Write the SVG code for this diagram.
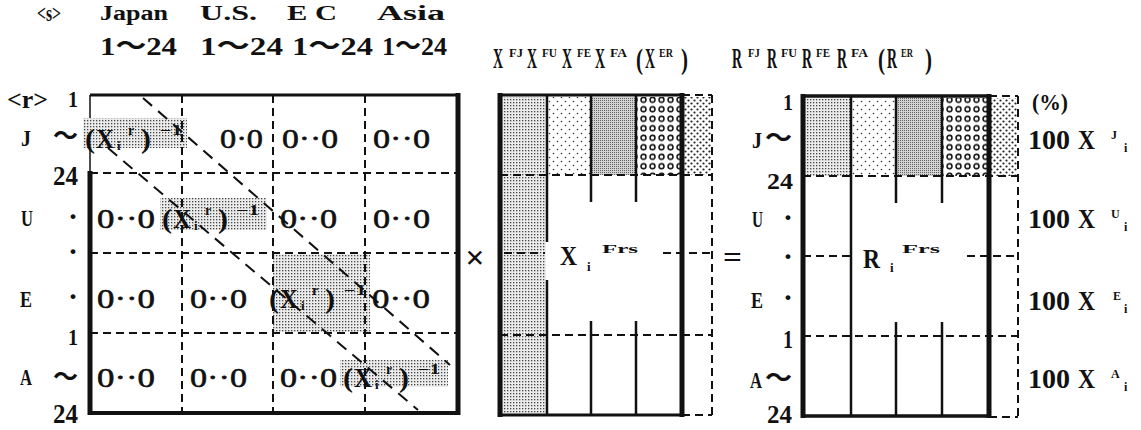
<svg xmlns="http://www.w3.org/2000/svg" width="1141" height="430" viewBox="0 0 1141 430">
<style>
.t{font-family:"Liberation Serif","Noto Sans CJK JP",serif;font-weight:bold;fill:#111}
.z{font-family:"Liberation Serif",serif;font-weight:normal;fill:#111;stroke:#111;stroke-width:0.6;font-size:28px}
.f12{font-size:12px}.f13{font-size:13px}.f14{font-size:14px}.f20{font-size:20px}.f23{font-size:23px}.f24{font-size:24px}.f26{font-size:26px}.f27{font-size:27px}.f28{font-size:28px}.f30{font-size:30px}.f34{font-size:34px}
.ln{stroke:#111;fill:none}
.d{stroke:#111;stroke-width:2;stroke-dasharray:8 5;fill:none}
.dg{stroke:#111;stroke-width:2;stroke-dasharray:12 8;fill:none}
</style>
<defs>
<pattern id="pGrid" width="3" height="3" patternUnits="userSpaceOnUse"><rect width="3" height="3" fill="#ececec"/><rect width="1.3" height="1.3" fill="#444"/></pattern>
<pattern id="pSparse" width="8" height="8" patternUnits="userSpaceOnUse"><rect width="8" height="8" fill="#fff"/><circle cx="1.5" cy="1.5" r="0.8" fill="#333"/><circle cx="5.5" cy="5.5" r="0.8" fill="#333"/></pattern>
<pattern id="pDense" width="2" height="2" patternUnits="userSpaceOnUse"><rect width="2" height="2" fill="#d2d2d2"/><rect width="1" height="1" fill="#666"/></pattern>
<pattern id="pRing" width="9" height="9.5" patternUnits="userSpaceOnUse"><rect width="9" height="9.5" fill="#fff"/><circle cx="4.5" cy="4.75" r="2.5" fill="none" stroke="#111" stroke-width="1.5"/></pattern>
<pattern id="pBig" width="6" height="6" patternUnits="userSpaceOnUse"><rect width="6" height="6" fill="#fff"/><circle cx="1.5" cy="1.5" r="1.1" fill="#222"/><circle cx="4.5" cy="4.5" r="1.1" fill="#222"/></pattern>
</defs>
<rect width="1141" height="430" fill="#fff"/>

<g id="column-labels">
<text class="t f24" x="37" y="21" textLength="24" lengthAdjust="spacingAndGlyphs">&lt;s&gt;</text>
<text class="t f20" x="100" y="20" textLength="68" lengthAdjust="spacingAndGlyphs">Japan</text>
<text class="t f20" x="200" y="20" textLength="57" lengthAdjust="spacingAndGlyphs">U.S.</text>
<text class="t f20" x="287" y="20" textLength="50" lengthAdjust="spacingAndGlyphs">E C</text>
<text class="t f20" x="377" y="20" textLength="68" lengthAdjust="spacingAndGlyphs">Asia</text>
<text class="t f26" x="100" y="55" textLength="77" lengthAdjust="spacingAndGlyphs">1〜24</text>
<text class="t f26" x="200" y="55" textLength="83" lengthAdjust="spacingAndGlyphs">1〜24</text>
<text class="t f26" x="292" y="55" textLength="81" lengthAdjust="spacingAndGlyphs">1〜24</text>
<text class="t f26" x="382" y="55" textLength="65" lengthAdjust="spacingAndGlyphs">1〜24</text>
</g>

<g id="x-labels">
<text class="t f30" x="493" y="68" textLength="10" lengthAdjust="spacingAndGlyphs">X</text>
<text class="t f12" x="509" y="57" textLength="14" lengthAdjust="spacingAndGlyphs">FJ</text>
<text class="t f30" x="527" y="68" textLength="10" lengthAdjust="spacingAndGlyphs">X</text>
<text class="t f12" x="542" y="57" textLength="15" lengthAdjust="spacingAndGlyphs">FU</text>
<text class="t f30" x="562" y="68" textLength="10" lengthAdjust="spacingAndGlyphs">X</text>
<text class="t f12" x="577" y="57" textLength="14" lengthAdjust="spacingAndGlyphs">FE</text>
<text class="t f30" x="595" y="68" textLength="10" lengthAdjust="spacingAndGlyphs">X</text>
<text class="t f12" x="610" y="57" textLength="17" lengthAdjust="spacingAndGlyphs">FA</text>
<text class="t f30" x="636" y="69" textLength="7" lengthAdjust="spacingAndGlyphs">(</text>
<text class="t f30" x="645" y="68" textLength="10" lengthAdjust="spacingAndGlyphs">X</text>
<text class="t f12" x="659" y="57" textLength="14" lengthAdjust="spacingAndGlyphs">ER</text>
<text class="t f30" x="681" y="69" textLength="7" lengthAdjust="spacingAndGlyphs">)</text>
</g>

<g id="r-labels">
<text class="t f30" x="732" y="68" textLength="10" lengthAdjust="spacingAndGlyphs">R</text>
<text class="t f12" x="748" y="57" textLength="12" lengthAdjust="spacingAndGlyphs">FJ</text>
<text class="t f30" x="767" y="68" textLength="10" lengthAdjust="spacingAndGlyphs">R</text>
<text class="t f12" x="781" y="57" textLength="16" lengthAdjust="spacingAndGlyphs">FU</text>
<text class="t f30" x="802" y="68" textLength="10" lengthAdjust="spacingAndGlyphs">R</text>
<text class="t f12" x="816" y="57" textLength="14" lengthAdjust="spacingAndGlyphs">FE</text>
<text class="t f30" x="837" y="68" textLength="10" lengthAdjust="spacingAndGlyphs">R</text>
<text class="t f12" x="851" y="57" textLength="17" lengthAdjust="spacingAndGlyphs">FA</text>
<text class="t f30" x="878" y="69" textLength="7" lengthAdjust="spacingAndGlyphs">(</text>
<text class="t f30" x="887" y="68" textLength="10" lengthAdjust="spacingAndGlyphs">R</text>
<text class="t f12" x="901" y="57" textLength="12" lengthAdjust="spacingAndGlyphs">ER</text>
<text class="t f30" x="925" y="69" textLength="7" lengthAdjust="spacingAndGlyphs">)</text>
</g>

<g id="row-labels-left">
<text class="t f26" x="7" y="108" textLength="41" lengthAdjust="spacingAndGlyphs">&lt;r&gt;</text>
<text class="t f23" x="68" y="107" textLength="10" lengthAdjust="spacingAndGlyphs">1</text>
<text class="t f23" x="21" y="146" textLength="10" lengthAdjust="spacingAndGlyphs">J</text>
<text class="t f26" x="53" y="145" textLength="25" lengthAdjust="spacingAndGlyphs">〜</text>
<text class="t f27" x="53" y="185" textLength="25" lengthAdjust="spacingAndGlyphs">24</text>
<text class="t f24" x="21" y="226" textLength="12" lengthAdjust="spacingAndGlyphs">U</text>
<text class="t f30" x="73" y="226" text-anchor="middle">·</text>
<text class="t f30" x="73" y="261" text-anchor="middle">·</text>
<text class="t f24" x="20" y="307" textLength="12" lengthAdjust="spacingAndGlyphs">E</text>
<text class="t f30" x="73" y="306" text-anchor="middle">·</text>
<text class="t f23" x="68" y="345" textLength="10" lengthAdjust="spacingAndGlyphs">1</text>
<text class="t f24" x="20" y="385" textLength="12" lengthAdjust="spacingAndGlyphs">A</text>
<text class="t f26" x="53" y="386" textLength="25" lengthAdjust="spacingAndGlyphs">〜</text>
<text class="t f27" x="53" y="423" textLength="25" lengthAdjust="spacingAndGlyphs">24</text>
</g>

<g id="left-matrix">
<line class="ln" x1="90" y1="95" x2="458" y2="95" stroke-width="3"/>
<line class="ln" x1="90" y1="95" x2="90" y2="173" stroke-width="1.5"/>
<line class="ln" x1="90" y1="171" x2="90" y2="415" stroke-width="5"/>
<line class="ln" x1="88" y1="413" x2="460" y2="413" stroke-width="4"/>
<line class="ln" x1="458" y1="93" x2="458" y2="415" stroke-width="5"/>
<rect x="83" y="118" width="104" height="30" fill="url(#pGrid)"/>
<rect x="160" y="198" width="107" height="32" fill="url(#pGrid)"/>
<rect x="273" y="254" width="97" height="78" fill="url(#pGrid)"/>
<rect x="340" y="360" width="108" height="27" fill="url(#pGrid)"/>
<path class="d" d="M182 95V413M273 95V413M365 95V413M90 173H458M90 253H458M90 333H458"/>
</g>

<g id="connectors">
<line class="dg" x1="143" y1="98" x2="450" y2="365"/>
<line class="dg" x1="108" y1="148" x2="418" y2="410"/>
</g>

<g id="left-matrix-text">
<text class="t f27" x="85" y="148" textLength="10" lengthAdjust="spacingAndGlyphs">(</text>
<text class="t f27" x="96" y="148" textLength="18" lengthAdjust="spacingAndGlyphs">X</text>
<text class="t f13" x="117" y="150">i</text>
<text class="t f14" x="128" y="135">r</text>
<text class="t f27" x="141" y="148" textLength="10" lengthAdjust="spacingAndGlyphs">)</text>
<text class="t f14" x="160" y="135" textLength="22" lengthAdjust="spacingAndGlyphs">−1</text>
<text class="z" x="220" y="148" textLength="43" lengthAdjust="spacingAndGlyphs">0·0</text>
<text class="z" x="282" y="148" textLength="56" lengthAdjust="spacingAndGlyphs">0··0</text>
<text class="z" x="373" y="148" textLength="57" lengthAdjust="spacingAndGlyphs">0··0</text>

<text class="z" x="97" y="228" textLength="58" lengthAdjust="spacingAndGlyphs">0··0</text>
<text class="t f27" x="162" y="228" textLength="10" lengthAdjust="spacingAndGlyphs">(</text>
<text class="t f27" x="173" y="228" textLength="18" lengthAdjust="spacingAndGlyphs">X</text>
<text class="t f13" x="194" y="230">i</text>
<text class="t f14" x="205" y="215">r</text>
<text class="t f27" x="218" y="228" textLength="10" lengthAdjust="spacingAndGlyphs">)</text>
<text class="t f14" x="237" y="215" textLength="22" lengthAdjust="spacingAndGlyphs">−1</text>
<text class="z" x="280" y="228" textLength="57" lengthAdjust="spacingAndGlyphs">0··0</text>
<text class="z" x="373" y="228" textLength="57" lengthAdjust="spacingAndGlyphs">0··0</text>

<text class="z" x="97" y="308" textLength="58" lengthAdjust="spacingAndGlyphs">0··0</text>
<text class="z" x="190" y="308" textLength="57" lengthAdjust="spacingAndGlyphs">0··0</text>
<text class="t f27" x="269" y="308" textLength="10" lengthAdjust="spacingAndGlyphs">(</text>
<text class="t f27" x="280" y="308" textLength="18" lengthAdjust="spacingAndGlyphs">X</text>
<text class="t f13" x="301" y="310">i</text>
<text class="t f14" x="312" y="295">r</text>
<text class="t f27" x="325" y="308" textLength="10" lengthAdjust="spacingAndGlyphs">)</text>
<text class="t f14" x="344" y="295" textLength="22" lengthAdjust="spacingAndGlyphs">−1</text>
<text class="z" x="372" y="308" textLength="58" lengthAdjust="spacingAndGlyphs">0··0</text>

<text class="z" x="97" y="387" textLength="58" lengthAdjust="spacingAndGlyphs">0··0</text>
<text class="z" x="190" y="387" textLength="57" lengthAdjust="spacingAndGlyphs">0··0</text>
<text class="z" x="280" y="387" textLength="57" lengthAdjust="spacingAndGlyphs">0··0</text>
<text class="t f27" x="343" y="387" textLength="10" lengthAdjust="spacingAndGlyphs">(</text>
<text class="t f27" x="354" y="387" textLength="18" lengthAdjust="spacingAndGlyphs">X</text>
<text class="t f13" x="375" y="389">i</text>
<text class="t f14" x="386" y="374">r</text>
<text class="t f27" x="399" y="387" textLength="10" lengthAdjust="spacingAndGlyphs">)</text>
<text class="t f14" x="418" y="374" textLength="22" lengthAdjust="spacingAndGlyphs">−1</text>
</g>

<g id="times">
<text class="t f34" x="475" y="269" text-anchor="middle">×</text>
</g>

<g id="middle-matrix">
<rect x="502" y="97" width="44" height="316" fill="url(#pGrid)"/>
<rect x="548" y="97" width="42" height="78" fill="url(#pSparse)"/>
<rect x="592" y="97" width="43" height="78" fill="url(#pDense)"/>
<rect x="637" y="97" width="44" height="78" fill="url(#pRing)"/>
<rect x="684" y="97" width="27" height="78" fill="url(#pBig)"/>
<line class="ln" x1="500" y1="93" x2="500" y2="417" stroke-width="5"/>
<line class="ln" x1="682" y1="93" x2="682" y2="417" stroke-width="5"/>
<line class="ln" x1="500" y1="95" x2="682" y2="95" stroke-width="3"/>
<line class="ln" x1="500" y1="415" x2="682" y2="415" stroke-width="3"/>
<path class="ln" stroke-width="2.5" d="M547 95V242M547 280V415M591 95V202M591 321V415M636 95V202M636 321V415"/>
<path class="d" d="M500 175H712M504 253H545M663 253H712M500 335H712M712 95V415M682 95H712M682 415H712"/>
<text class="t f27" x="560" y="265" textLength="17" lengthAdjust="spacingAndGlyphs">X</text>
<text class="t f13" x="587" y="271">i</text>
<text class="t f13" x="602" y="253" textLength="36" lengthAdjust="spacingAndGlyphs">Frs</text>
</g>

<g id="equals">
<text class="t f30" x="723" y="267" textLength="19" lengthAdjust="spacingAndGlyphs">=</text>
</g>

<g id="row-labels-right">
<text class="t f23" x="783" y="110" textLength="10" lengthAdjust="spacingAndGlyphs">1</text>
<text class="t f24" x="752" y="148" textLength="10" lengthAdjust="spacingAndGlyphs">J</text>
<text class="t f26" x="765" y="147" textLength="27" lengthAdjust="spacingAndGlyphs">〜</text>
<text class="t f23" x="767" y="189" textLength="26" lengthAdjust="spacingAndGlyphs">24</text>
<text class="t f24" x="752" y="227" textLength="11" lengthAdjust="spacingAndGlyphs">U</text>
<text class="t f30" x="788" y="227" text-anchor="middle">·</text>
<text class="t f30" x="788" y="266" text-anchor="middle">·</text>
<text class="t f24" x="751" y="308" textLength="12" lengthAdjust="spacingAndGlyphs">E</text>
<text class="t f30" x="788" y="307" text-anchor="middle">·</text>
<text class="t f26" x="783" y="348" textLength="10" lengthAdjust="spacingAndGlyphs">1</text>
<text class="t f24" x="750" y="388" textLength="12" lengthAdjust="spacingAndGlyphs">A</text>
<text class="t f26" x="765" y="387" textLength="27" lengthAdjust="spacingAndGlyphs">〜</text>
<text class="t f26" x="767" y="423" textLength="25" lengthAdjust="spacingAndGlyphs">24</text>
</g>

<g id="right-matrix">
<rect x="805" y="98" width="45" height="78" fill="url(#pGrid)"/>
<rect x="852" y="98" width="43" height="78" fill="url(#pSparse)"/>
<rect x="897" y="98" width="44" height="78" fill="url(#pDense)"/>
<rect x="943" y="98" width="45" height="78" fill="url(#pRing)"/>
<rect x="991" y="98" width="26" height="78" fill="url(#pBig)"/>
<line class="ln" x1="803" y1="94" x2="803" y2="418" stroke-width="5"/>
<line class="ln" x1="989" y1="94" x2="989" y2="418" stroke-width="5"/>
<line class="ln" x1="803" y1="96" x2="989" y2="96" stroke-width="3.5"/>
<line class="ln" x1="803" y1="416" x2="989" y2="416" stroke-width="3.5"/>
<path class="ln" stroke-width="2.5" d="M851 96V416M896 96V203M896 322V416M942 96V203M942 322V416"/>
<path class="d" d="M803 176H1018M803 256H851M967 256H1018M803 336H1018M1018 96V417M989 96H1018M989 417H1018"/>
<text class="t f27" x="863" y="268" textLength="17" lengthAdjust="spacingAndGlyphs">R</text>
<text class="t f13" x="890" y="272">i</text>
<text class="t f13" x="902" y="253" textLength="38" lengthAdjust="spacingAndGlyphs">Frs</text>
</g>

<g id="percent-labels">
<text class="t f23" x="1032" y="110" textLength="36" lengthAdjust="spacingAndGlyphs">(%)</text>
<text class="t f27" x="1028" y="149" textLength="42" lengthAdjust="spacingAndGlyphs">100</text>
<text class="t f27" x="1078" y="149" textLength="17" lengthAdjust="spacingAndGlyphs">X</text>
<text class="t f12" x="1111" y="139">J</text>
<text class="t f12" x="1124" y="152">i</text>
<text class="t f27" x="1028" y="228" textLength="42" lengthAdjust="spacingAndGlyphs">100</text>
<text class="t f27" x="1078" y="228" textLength="17" lengthAdjust="spacingAndGlyphs">X</text>
<text class="t f12" x="1111" y="218">U</text>
<text class="t f12" x="1124" y="231">i</text>
<text class="t f27" x="1028" y="310" textLength="42" lengthAdjust="spacingAndGlyphs">100</text>
<text class="t f27" x="1078" y="310" textLength="17" lengthAdjust="spacingAndGlyphs">X</text>
<text class="t f12" x="1113" y="300">E</text>
<text class="t f12" x="1124" y="313">i</text>
<text class="t f27" x="1028" y="388" textLength="42" lengthAdjust="spacingAndGlyphs">100</text>
<text class="t f27" x="1078" y="388" textLength="17" lengthAdjust="spacingAndGlyphs">X</text>
<text class="t f12" x="1111" y="378">A</text>
<text class="t f12" x="1124" y="391">i</text>
</g>
</svg>
